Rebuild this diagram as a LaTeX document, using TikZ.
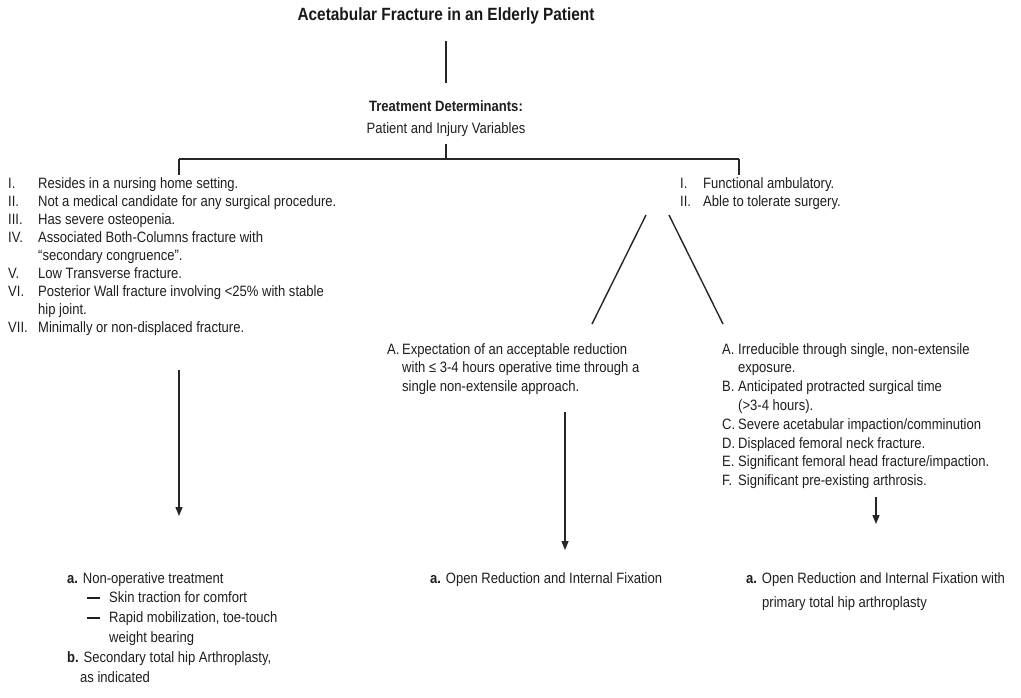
\documentclass[tikz,border=0pt]{standalone}
\usepackage{fontspec}
\setmainfont{Liberation Sans}[FakeStretch=0.87]
\usetikzlibrary{arrows.meta}
\tikzset{
  txt/.style={anchor=base west, inner sep=0pt, text=black!88, font=\fontsize{15}{18}\selectfont},
  conn/.style={line width=1.4pt, draw=black!85},
  arr/.style={line width=1.4pt, draw=black!85, -{Triangle[length=9pt,width=7pt]}},
}
\newcommand{\dashitem}{\hspace{20pt}\rule[4pt]{13pt}{1.8pt}\hspace{9pt}}
\begin{document}
\begin{tikzpicture}[x=1pt,y=-1pt]
\useasboundingbox[fill=white] (0,0) rectangle (1021,697);

% title and determinants
\node[anchor=base, inner sep=0pt, text=black!90, font=\bfseries\fontsize{17.7}{20}\selectfont] (title) at (446,20)
  {Acetabular Fracture in an Elderly Patient};
\node[anchor=base, inner sep=0pt, text=black!88, font=\fontsize{15}{22}\selectfont] (td) at (446,111)
  {\begin{tabular}[t]{@{}c@{}}\textbf{Treatment Determinants:}\\ Patient and Injury Variables\end{tabular}};

\coordinate (t1) at (446,41);
\coordinate (t2) at (446,83);
\coordinate (j0) at (446,144);
\coordinate (jm) at (446,159);
\coordinate (jl) at (179,159);
\coordinate (jr) at (739,159);
\draw[line width=1.8pt, draw=black!85] (t1) -- (t2);
\draw[conn] (j0) -- (jm);
\draw[conn] (jl) -- (jr);
\draw[conn] (jl) -- ++(0,16);
\draw[conn] (jr) -- ++(0,16);

% left list
\node[txt] (leftlist) at (8,188) {\begin{tabular}[t]{@{}p{30pt}@{}l@{}}
I. & Resides in a nursing home setting.\\
II. & Not a medical candidate for any surgical procedure.\\
III. & Has severe osteopenia.\\
IV. & Associated Both-Columns fracture with\\
 & “secondary congruence”.\\
V. & Low Transverse fracture.\\
VI. & Posterior Wall fracture involving <25\% with stable\\
 & hip joint.\\
VII. & Minimally or non-displaced fracture.
\end{tabular}};

% right list
\node[txt] (rightlist) at (680,188) {\begin{tabular}[t]{@{}p{23pt}@{}l@{}}
I. & Functional ambulatory.\\
II. & Able to tolerate surgery.
\end{tabular}};

% diagonals
\coordinate (dl1) at (646,215);
\coordinate (dl2) at (592,324);
\coordinate (dr1) at (669,215);
\coordinate (dr2) at (723,324);
\draw[conn] (dl1) -- (dl2);
\draw[conn] (dr1) -- (dr2);

% middle A
\node[txt, font=\fontsize{15}{18.5}\selectfont] (midA) at (387,354) {\begin{tabular}[t]{@{}p{15pt}@{}l@{}}
A. & Expectation of an acceptable reduction\\
 & with ≤ 3-4 hours operative time through a\\
 & single non-extensile approach.
\end{tabular}};

% right A-F
\node[txt, font=\fontsize{15}{18.8}\selectfont] (rightA) at (722,354) {\begin{tabular}[t]{@{}p{16pt}@{}l@{}}
A. & Irreducible through single, non-extensile\\
 & exposure.\\
B. & Anticipated protracted surgical time\\
 & (>3-4 hours).\\
C. & Severe acetabular impaction/comminution\\
D. & Displaced femoral neck fracture.\\
E. & Significant femoral head fracture/impaction.\\
F. & Significant pre-existing arthrosis.
\end{tabular}};

% arrows
\coordinate (al1) at (179,370);
\coordinate (al2) at (179,516);
\coordinate (am1) at (565,412);
\coordinate (am2) at (565,550);
\coordinate (ar1) at (876,497);
\coordinate (ar2) at (876,524);
\draw[arr] (al1) -- (al2);
\draw[arr] (am1) -- (am2);
\draw[arr] (ar1) -- (ar2);

% outcomes
\node[txt, font=\fontsize{15}{19.8}\selectfont] (out1) at (67,583) {\begin{tabular}[t]{@{}l@{}}
\textbf{a.} Non-operative treatment\\
\dashitem Skin traction for comfort\\
\dashitem Rapid mobilization, toe-touch\\
\hspace{42pt}weight bearing\\
\textbf{b.} Secondary total hip Arthroplasty,\\
\hspace{13pt}as indicated
\end{tabular}};

\node[txt] (out2) at (430,583) {\textbf{a.} Open Reduction and Internal Fixation};

\node[txt, font=\fontsize{15}{24}\selectfont] (out3) at (746,583) {\begin{tabular}[t]{@{}l@{}}
\textbf{a.} Open Reduction and Internal Fixation with\\
\hspace{16pt}primary total hip arthroplasty
\end{tabular}};
\end{tikzpicture}
\end{document}
